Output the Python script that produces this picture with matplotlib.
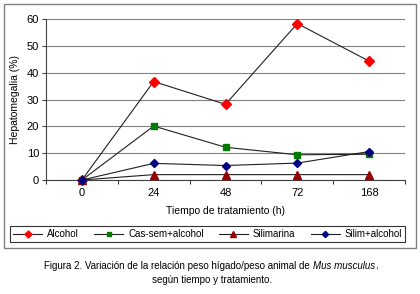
import matplotlib
matplotlib.use("Agg")
import matplotlib.pyplot as plt
from matplotlib.patches import Rectangle
from matplotlib.lines import Line2D

plt.rcParams['font.family'] = ['Liberation Sans', 'DejaVu Sans']

categories = ["0", "24", "48", "72", "168"]
alcohol = [0, 36.7, 28.2, 58.3, 44.3]
cas_sem = [0, 20.1, 12.2, 9.4, 9.6]
silimarina = [0, 2.0, 2.0, 2.0, 2.0]
silim_alc = [0, 6.2, 5.4, 6.3, 10.6]
series_names = ["Alcohol", "Cas-sem+alcohol", "Silimarina", "Silim+alcohol"]
yticks = [0, 10, 20, 30, 40, 50, 60]

W, H = 420, 294
fig = plt.figure(figsize=(W / 100, H / 100), dpi=100)

# outer frame
fig.patches.append(Rectangle((4 / W, 1 - 248 / H), 412 / W, 244 / H, transform=fig.transFigure,
                             fill=False, edgecolor='#808080', linewidth=1.0))

ax = fig.add_axes([46 / W, 1 - 180 / H, 359 / W, 161 / H])
x = list(range(len(categories)))
styles = [
    (alcohol, 'D', '#FF0000', 5.0),
    (cas_sem, 's', '#007A00', 5.0),
    (silimarina, '^', '#990000', 5.5),
    (silim_alc, 'D', '#000080', 4.5),
]
handles = []
for (vals, m, c, ms), name in zip(styles, series_names):
    ax.plot(x, vals, color='#202020', linewidth=0.8, marker=m, markersize=ms,
            markerfacecolor=c, markeredgecolor=c, label=name, clip_on=False, zorder=3)
    handles.append(Line2D([], [], color='#202020', linewidth=0.8, marker=m, markersize=ms * 0.7,
                          markerfacecolor=c, markeredgecolor=c))

ax.set_xlim(-0.5, len(categories) - 0.5)
ax.set_ylim(0, 60)
ax.set_yticks(yticks)
ax.yaxis.grid(True, color='#808080', linewidth=0.8)
ax.set_axisbelow(True)
ax.set_xticks([i - 0.5 for i in range(len(categories) + 1)])
ax.set_xticklabels([])
ax.set_xticks(x, minor=True)
ax.set_xticklabels(categories, minor=True)
ax.tick_params(axis='x', which='minor', length=0, labelsize=8, pad=6)
ax.tick_params(axis='x', which='major', length=3, direction='out', color='#404040')
ax.tick_params(axis='y', length=3, direction='out', labelsize=8, color='#404040', pad=2)
for s in ['top', 'right']:
    ax.spines[s].set_visible(False)
ax.spines['left'].set_color('#404040')
ax.spines['bottom'].set_color('#404040')
ax.set_ylabel("Hepatomegalia (%)", fontsize=7.5, labelpad=5)

fig.text(226 / W, 1 - 211 / H, "Tiempo de tratamiento (h)", ha='center', va='center', fontsize=7.5)

leg = fig.legend(handles, series_names, loc='lower left', mode='expand',
                 bbox_to_anchor=(10 / W, 1 - 242 / H, 395 / W, 17 / H),
                 ncol=4, fontsize=7, frameon=True, fancybox=False, edgecolor='black',
                 handlelength=3.0, columnspacing=1.0, handletextpad=0.5, borderpad=0.3,
                 borderaxespad=0)
leg.get_frame().set_linewidth(0.8)

# caption with italic part
fig.canvas.draw()
r = fig.canvas.get_renderer()
y1 = 1 - 266 / H
parts = [("Figura 2. Variación de la relación peso hígado/peso animal de ", 'normal'),
         ("Mus musculus", 'italic'), (",", 'normal')]
texts = [fig.text(0, y1, p, fontsize=7, style=s, va='center') for p, s in parts]
widths = [t.get_window_extent(r).width for t in texts]
total = sum(widths)
start = (211 - total / 2)
for t, w in zip(texts, widths):
    t.set_x(start / W)
    start += w
fig.text(212 / W, 1 - 280 / H, "según tiempo y tratamiento.", ha='center', va='center', fontsize=7)

fig.savefig("out.png", dpi=100)
